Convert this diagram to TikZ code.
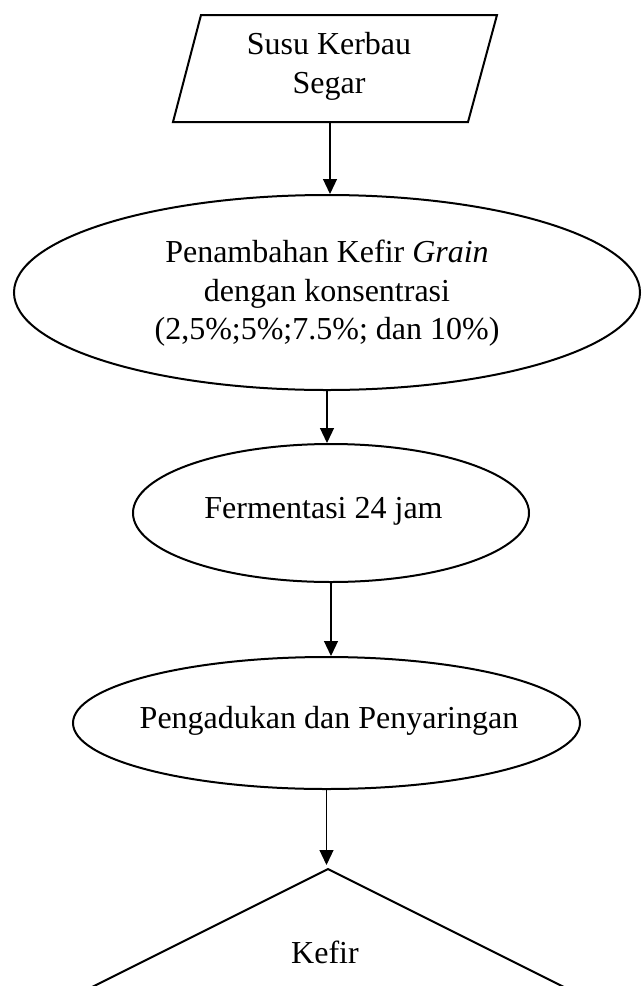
\documentclass[tikz,border=0pt]{standalone}
\usepackage{fontspec}
\setmainfont{Liberation Serif}
\usetikzlibrary{arrows.meta,shapes.geometric}
\begin{document}
\begin{tikzpicture}[x=1pt,y=-1pt,
  outline/.style={line width=2pt, line join=miter},
  arr/.style={line width=1.2pt,-{Triangle[width=14pt,length=15pt]}},
  lbl/.style={font=\fontsize{32}{38.5}\selectfont, inner sep=0pt, align=center},
  proc/.style={ellipse, draw, line width=2pt, inner sep=0pt}]
\useasboundingbox (0,0) rectangle (641,986);
% input (parallelogram)
\draw[outline] (201,15) -- (497,15) -- (468,122) -- (173,122) -- cycle;
\node[minimum width=290pt, minimum height=107pt, inner sep=0pt, outer sep=0pt] (susu) at (330,68.5) {};
\node[lbl] (tsusu) at (329,66.5) {Susu Kerbau\\Segar};
% process ellipses
\node[proc, minimum width=626pt, minimum height=195pt] (e1) at (327,292.5) {};
\node[lbl] (t1) at (327,293.5) {Penambahan Kefir \textit{Grain}\\dengan konsentrasi\\(2,5\%;5\%;7.5\%; dan 10\%)};
\node[proc, minimum width=396pt, minimum height=138pt] (e2) at (331,513) {};
\node[lbl, anchor=base] (t2) at (323.5,518) {Fermentasi 24 jam};
\node[proc, minimum width=507pt, minimum height=132pt] (e3) at (326.5,723) {};
\node[lbl, anchor=base] (t3) at (329,728) {Pengadukan dan Penyaringan};
% output (triangle)
\coordinate (apex) at (328,869);
\coordinate (tl) at (88,989);
\coordinate (tr) at (568,989);
\draw[outline] (tl) -- (apex) -- (tr);
\node[lbl, anchor=base] (kefir) at (325,963) {Kefir};
% connectors
\draw[arr] (susu.south) -- (susu.south |- e1.north);
\draw[arr] (e1.south) -- (e1.south |- e2.north);
\draw[arr] (e2.south) -- (e2.south |- e3.north);
\draw[arr, shorten >=4pt] (e3.south) -- (e3.south |- apex);
\end{tikzpicture}
\end{document}
